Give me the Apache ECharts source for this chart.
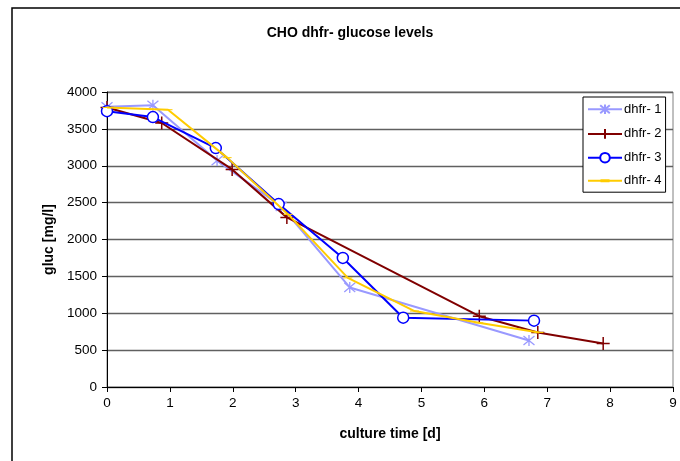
<!DOCTYPE html>
<html>
<head>
<meta charset="utf-8">
<script src="https://cdn.jsdelivr.net/npm/echarts@6/dist/echarts.min.js"></script>
<style>
  html, body { margin: 0; padding: 0; background: #fff; }
  #chart { width: 680px; height: 461px; }
</style>
</head>
<body>
<div id="chart"></div>
<script>
// Glucose concentration over culture time for four CHO dhfr- cultures
const seriesNames = ['dhfr- 1', 'dhfr- 2', 'dhfr- 3', 'dhfr- 4'];

const time1 = [0, 0.73, 1.75, 2.77, 3.86, 6.71];
const gluc1 = [3800, 3820, 3070, 2450, 1350, 630];

const time2 = [0, 0.87, 1.99, 2.86, 5.92, 6.85, 7.89];
const gluc2 = [3790, 3580, 2950, 2300, 960, 740, 590];

const time3 = [0, 0.73, 1.73, 2.73, 3.75, 4.71, 6.79];
const gluc3 = [3740, 3660, 3240, 2480, 1750, 940, 900];

const time4 = [0, 0.97, 1.91, 2.88, 3.83, 4.89, 5.91, 6.87];
const gluc4 = [3790, 3760, 3110, 2340, 1480, 1030, 870, 740];

const xTicks = [0, 1, 2, 3, 4, 5, 6, 7, 8, 9];
const yTicks = [0, 500, 1000, 1500, 2000, 2500, 3000, 3500, 4000];

function pairs(xs, ys) { return xs.map((x, i) => [x, ys[i]]); }

const FONT = 'Liberation Sans, Arial, sans-serif';
const asterisk = 'path://M0,0L10,10M10,0L0,10M5,-1L5,11';
const plus = 'path://M5,0L5,10M0,5L10,5';
const dash = 'path://M0,0L9,0L9,3L0,3Z';
// legend key for the dash-marked series: line with a thicker dash in the middle,
// plus two tiny corner dots so the icon keeps its 34x12 box
const dashKey = 'path://M0,0L0.01,0L0.01,0.01Z M33.99,11.99L34,11.99L34,12L33.99,12Z ' +
                'M0,5L34,5L34,7L0,7Z M12.5,4.5L21.5,4.5L21.5,7.5L12.5,7.5Z';

const chart = echarts.init(document.getElementById('chart'), null, { renderer: 'canvas' });

chart.setOption({
  animation: false,
  backgroundColor: '#ffffff',
  textStyle: { fontFamily: FONT },
  graphic: [{
    type: 'rect',
    shape: { x: 12, y: 8, width: 720, height: 520 },
    style: { fill: 'none', stroke: '#000', lineWidth: 1.5 },
    silent: true
  }],
  title: {
    text: 'CHO dhfr- glucose levels',
    left: 345, top: 21, textAlign: 'center',
    textStyle: { fontSize: 14, fontWeight: 'bold', color: '#000', fontFamily: FONT }
  },
  grid: {
    left: 107, top: 92, right: 7, bottom: 74,
    show: true, borderColor: '#808080', borderWidth: 1, backgroundColor: 'transparent'
  },
  legend: {
    orient: 'vertical',
    left: 583, top: 97,
    padding: [5, 4, 5, 4],
    itemWidth: 34, itemHeight: 12, itemGap: 10,
    backgroundColor: '#fff', borderColor: '#000', borderWidth: 1,
    textStyle: { fontSize: 13, color: '#000', fontFamily: FONT, padding: [0, 0, 0, -3] },
    data: [seriesNames[0], seriesNames[1], seriesNames[2],
           { name: seriesNames[3], icon: dashKey }]
  },
  xAxis: {
    type: 'value', min: xTicks[0], max: xTicks[xTicks.length - 1], interval: 1,
    name: 'culture time [d]', nameLocation: 'middle', nameGap: 40,
    nameTextStyle: { fontSize: 14, fontWeight: 'bold', color: '#000', fontFamily: FONT },
    axisLine: { lineStyle: { color: '#000', width: 1 } },
    axisTick: { show: true, length: 5, inside: false, lineStyle: { color: '#000' } },
    axisLabel: { fontSize: 13.5, color: '#000', margin: 9, fontFamily: FONT },
    splitLine: { show: false }
  },
  yAxis: {
    type: 'value', min: yTicks[0], max: yTicks[yTicks.length - 1], interval: 500,
    name: 'gluc [mg/l]', nameLocation: 'middle', nameGap: 48, nameRotate: 90,
    nameTextStyle: { fontSize: 14, fontWeight: 'bold', color: '#000', fontFamily: FONT },
    axisLine: { show: true, lineStyle: { color: '#000', width: 1 } },
    axisTick: { show: true, length: 5, inside: false, lineStyle: { color: '#000' } },
    axisLabel: { fontSize: 13.5, color: '#000', margin: 10, fontFamily: FONT,
                 formatter: v => String(v) },
    splitLine: { show: true, lineStyle: { color: '#606060', width: 1.3 } }
  },
  series: [
    {
      name: seriesNames[0], type: 'line', data: pairs(time1, gluc1),
      symbol: asterisk, symbolSize: 11, showAllSymbol: true,
      lineStyle: { color: '#9999FF', width: 2 },
      itemStyle: { color: 'none', borderColor: '#9999FF', borderWidth: 1.3 },
      z: 2
    },
    {
      name: seriesNames[1], type: 'line', data: pairs(time2, gluc2),
      symbol: plus, symbolSize: 13, showAllSymbol: true,
      lineStyle: { color: '#800000', width: 2 },
      itemStyle: { color: 'none', borderColor: '#800000', borderWidth: 1.5 },
      z: 3
    },
    {
      name: seriesNames[2], type: 'line', data: pairs(time3, gluc3),
      symbol: 'circle', symbolSize: 11, showAllSymbol: true,
      lineStyle: { color: '#0000FF', width: 2 },
      itemStyle: { color: '#ffffff', borderColor: '#0000FF', borderWidth: 1.5 },
      z: 4
    },
    {
      name: seriesNames[3], type: 'line', data: pairs(time4, gluc4),
      symbol: dash, symbolSize: [9, 3], symbolKeepAspect: true, showAllSymbol: true,
      lineStyle: { color: '#FFCC00', width: 2 },
      itemStyle: { color: '#FFCC00', borderWidth: 0 },
      z: 5
    }
  ]
});
</script>
</body>
</html>
